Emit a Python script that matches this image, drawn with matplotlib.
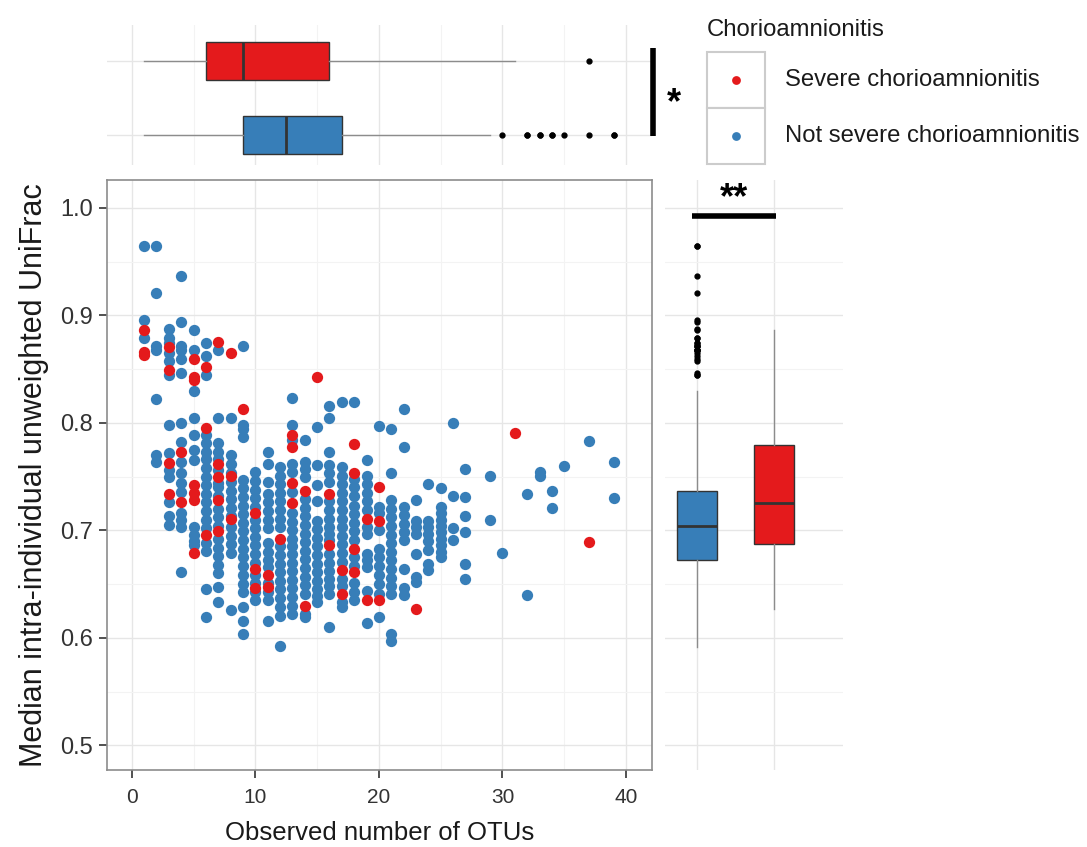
import matplotlib
matplotlib.use('Agg')
import matplotlib.pyplot as plt
from matplotlib.patches import Rectangle

plt.rcParams['font.family'] = ['Liberation Sans', 'DejaVu Sans']

RED = '#E41A1C'
BLUE = '#377EB8'

# observed OTUs -> median intra-individual unweighted UniFrac
not_severe = [
    (1, [0.965, 0.896, 0.879]),
    (2, [0.965, 0.921, 0.872, 0.868, 0.822, 0.770, 0.764]),
    (3, [0.887, 0.879, 0.874, 0.865, 0.858, 0.845, 0.798, 0.772, 0.756, 0.750, 0.726, 0.713, 0.705]),
    (4, [0.937, 0.894, 0.872, 0.868, 0.859, 0.846, 0.800, 0.782, 0.764, 0.753, 0.744, 0.736,
         0.716, 0.710, 0.703, 0.661]),
    (5, [0.886, 0.868, 0.830, 0.805, 0.789, 0.775, 0.765, 0.703, 0.696, 0.690, 0.686]),
    (6, [0.874, 0.862, 0.845, 0.789, 0.781, 0.773, 0.766, 0.758, 0.750, 0.742, 0.734, 0.726,
         0.718, 0.710, 0.702, 0.688, 0.681, 0.645, 0.619]),
    (7, [0.868, 0.805, 0.781, 0.773, 0.766, 0.756, 0.744, 0.740, 0.732, 0.720, 0.712, 0.704,
         0.692, 0.684, 0.676, 0.668, 0.660, 0.647, 0.633]),
    (8, [0.805, 0.770, 0.762, 0.753, 0.745, 0.737, 0.729, 0.721, 0.713, 0.703, 0.695, 0.687,
         0.679, 0.626]),
    (9, [0.872, 0.798, 0.794, 0.787, 0.747, 0.739, 0.731, 0.723, 0.715, 0.707, 0.699, 0.691,
         0.683, 0.675, 0.667, 0.658, 0.650, 0.643, 0.629, 0.616, 0.604]),
    (10, [0.754, 0.746, 0.738, 0.730, 0.722, 0.710, 0.702, 0.694, 0.686, 0.678, 0.670, 0.658,
          0.651, 0.643, 0.635]),
    (11, [0.773, 0.762, 0.745, 0.734, 0.726, 0.718, 0.710, 0.702, 0.688, 0.680, 0.672, 0.666,
          0.651, 0.643, 0.635, 0.616]),
    (12, [0.759, 0.751, 0.743, 0.735, 0.727, 0.719, 0.711, 0.703, 0.685, 0.677, 0.669, 0.661,
          0.653, 0.645, 0.637, 0.629, 0.620, 0.592]),
    (13, [0.823, 0.798, 0.784, 0.762, 0.754, 0.736, 0.716, 0.708, 0.700, 0.692, 0.685, 0.678,
          0.670, 0.662, 0.654, 0.646, 0.638, 0.630, 0.622]),
    (14, [0.784, 0.764, 0.757, 0.750, 0.729, 0.721, 0.713, 0.705, 0.697, 0.689, 0.681, 0.673,
          0.665, 0.657, 0.649, 0.641, 0.622, 0.619]),
    (15, [0.796, 0.761, 0.742, 0.727, 0.709, 0.701, 0.693, 0.685, 0.677, 0.669, 0.661, 0.653,
          0.645, 0.639, 0.633]),
    (16, [0.816, 0.805, 0.773, 0.761, 0.753, 0.745, 0.727, 0.719, 0.711, 0.703, 0.697, 0.691,
          0.678, 0.670, 0.662, 0.655, 0.648, 0.641, 0.610]),
    (17, [0.819, 0.759, 0.751, 0.743, 0.735, 0.727, 0.719, 0.711, 0.703, 0.695, 0.687, 0.679,
          0.671, 0.655, 0.648, 0.633, 0.629]),
    (18, [0.819, 0.748, 0.740, 0.732, 0.723, 0.715, 0.707, 0.699, 0.691, 0.675, 0.667, 0.651,
          0.643, 0.635]),
    (19, [0.765, 0.751, 0.743, 0.735, 0.727, 0.719, 0.703, 0.697, 0.678, 0.672, 0.666, 0.644, 0.614]),
    (20, [0.797, 0.722, 0.716, 0.700, 0.683, 0.675, 0.667, 0.658, 0.650, 0.641, 0.619]),
    (21, [0.794, 0.753, 0.728, 0.720, 0.712, 0.704, 0.696, 0.688, 0.680, 0.672, 0.664, 0.656,
          0.648, 0.641, 0.604, 0.597]),
    (22, [0.813, 0.778, 0.722, 0.714, 0.706, 0.698, 0.691, 0.664, 0.646, 0.640]),
    (23, [0.728, 0.709, 0.703, 0.697, 0.678, 0.657, 0.652]),
    (24, [0.743, 0.709, 0.703, 0.697, 0.690, 0.682, 0.669, 0.663]),
    (25, [0.739, 0.722, 0.716, 0.710, 0.704, 0.698, 0.692, 0.686, 0.680, 0.675]),
    (26, [0.800, 0.732, 0.702, 0.691]),
    (27, [0.757, 0.731, 0.713, 0.698, 0.669, 0.655]),
    (29, [0.751, 0.710]),
    (30, [0.679]),
    (32, [0.734, 0.640]),
    (33, [0.754, 0.751]),
    (34, [0.737, 0.721]),
    (35, [0.760]),
    (37, [0.783]),
    (39, [0.764, 0.730]),
]

severe = [
    (1, [0.886, 0.866, 0.863]),
    (3, [0.871, 0.849, 0.763, 0.734]),
    (4, [0.773, 0.726]),
    (5, [0.859, 0.843, 0.840, 0.742, 0.735, 0.728, 0.679]),
    (6, [0.852, 0.795, 0.696]),
    (7, [0.875, 0.762, 0.750, 0.728, 0.699]),
    (8, [0.865, 0.751, 0.711]),
    (9, [0.813]),
    (10, [0.716, 0.664, 0.646]),
    (11, [0.658, 0.647]),
    (12, [0.692]),
    (13, [0.789, 0.778, 0.744, 0.725]),
    (14, [0.737, 0.630]),
    (15, [0.843]),
    (16, [0.734, 0.686]),
    (17, [0.663, 0.641]),
    (18, [0.780, 0.753, 0.683, 0.661]),
    (19, [0.711, 0.635]),
    (20, [0.740, 0.709, 0.635]),
    (23, [0.627]),
    (31, [0.791]),
    (37, [0.689]),
]

# marginal box statistics: [whisker low, Q1, median, Q3, whisker high]
otu_stats_severe = [1, 6, 9, 16, 31]
otu_stats_not_severe = [1, 9, 12.5, 17, 29]
unifrac_stats_not_severe = [0.591, 0.672, 0.704, 0.737, 0.830]
unifrac_stats_severe = [0.627, 0.6875, 0.725, 0.779, 0.886]

legend_labels = ['Severe chorioamnionitis', 'Not severe chorioamnionitis']


def flatten(groups):
    xs = [x for x, ys in groups for _ in ys]
    ys = [y for _, vals in groups for y in vals]
    return xs, ys


def make_stats(s, values):
    fl = [v for v in values if v < s[0] or v > s[4]]
    return dict(whislo=s[0], q1=s[1], med=s[2], q3=s[3], whishi=s[4], fliers=fl)


bx, by = flatten(not_severe)
rx, ry = flatten(severe)

W, H = 1087, 847
fig = plt.figure(figsize=(W / 100, H / 100), dpi=100)

main_ax = fig.add_axes([107 / W, 1 - 770 / H, 545 / W, 590 / H])
right_ax = fig.add_axes([665 / W, 1 - 770 / H, 178 / W, 590 / H])
top_ax = fig.add_axes([107 / W, 1 - 165 / H, 545 / W, 140 / H])

major_c, minor_c = '#E6E6E6', '#F3F3F3'

# ---- main scatter
main_ax.scatter(bx, by, s=66, color=BLUE, linewidths=0, zorder=3)
main_ax.scatter(rx, ry, s=66, color=RED, linewidths=0, zorder=3)
main_ax.set_xlim(-2.0, 42.1)
main_ax.set_ylim(0.477, 1.026)
main_ax.set_xticks([0, 10, 20, 30, 40])
main_ax.set_xticks([5, 15, 25, 35], minor=True)
main_ax.set_yticks([0.5, 0.6, 0.7, 0.8, 0.9, 1.0])
main_ax.set_yticks([0.55, 0.65, 0.75, 0.85, 0.95], minor=True)
main_ax.set_yticklabels(['0.5', '0.6', '0.7', '0.8', '0.9', '1.0'])
main_ax.grid(True, which='major', color=major_c, lw=1.0, zorder=0)
main_ax.grid(True, which='minor', color=minor_c, lw=0.8, zorder=0)
main_ax.tick_params(which='major', length=6, width=1.2, color='#333333',
                    labelcolor='#333333')
main_ax.tick_params(axis='x', which='major', labelsize=15, pad=7)
main_ax.tick_params(axis='y', which='major', labelsize=17, pad=4)
main_ax.tick_params(which='minor', length=0)
for sp in main_ax.spines.values():
    sp.set_color('#8C8C8C')
    sp.set_linewidth(1.2)
main_ax.set_xlabel('Observed number of OTUs', fontsize=18.5, color='#1A1A1A', labelpad=10)
main_ax.set_ylabel('Median intra-individual unweighted UniFrac', fontsize=22,
                   color='#1A1A1A', labelpad=8)

box_kw = dict(patch_artist=True, showcaps=False, widths=0.52,
              boxprops=dict(edgecolor='#333333', linewidth=1.0),
              medianprops=dict(color='#333333', linewidth=2.0),
              whiskerprops=dict(color='#8C8C8C', linewidth=1.0),
              flierprops=dict(marker='o', markersize=3.5, markerfacecolor='black',
                              markeredgecolor='black'))

# ---- right marginal boxplot (UniFrac by group)
rb = right_ax.bxp([make_stats(unifrac_stats_not_severe, by), make_stats(unifrac_stats_severe, ry)],
                  positions=[1, 2], **box_kw)
for patch, c in zip(rb['boxes'], [BLUE, RED]):
    patch.set_facecolor(c)
right_ax.set_xlim(0.584, 2.896)
right_ax.set_ylim(main_ax.get_ylim())
right_ax.set_yticks(main_ax.get_yticks())
right_ax.set_yticks([0.55, 0.65, 0.75, 0.85, 0.95], minor=True)
right_ax.set_xticks([1, 2])
right_ax.grid(True, which='major', color=major_c, lw=1.0, zorder=0)
right_ax.grid(True, which='minor', color=minor_c, lw=0.8, zorder=0)
right_ax.set_axisbelow(True)
right_ax.tick_params(which='both', length=0, labelleft=False, labelbottom=False)
for sp in right_ax.spines.values():
    sp.set_visible(False)
right_ax.plot([0.935, 2.026], [0.9926, 0.9926], color='black', lw=4, solid_capstyle='butt',
              clip_on=False)
right_ax.text(1.48, 1.009, '**', ha='center', va='center', fontsize=26, fontweight='bold',
              clip_on=False)

# ---- top marginal boxplot (OTUs by group)
tb = top_ax.bxp([make_stats(otu_stats_not_severe, bx), make_stats(otu_stats_severe, rx)],
                positions=[1, 2], orientation='horizontal', **box_kw)
for patch, c in zip(tb['boxes'], [BLUE, RED]):
    patch.set_facecolor(c)
top_ax.set_xlim(main_ax.get_xlim())
top_ax.set_ylim(0.595, 2.486)
top_ax.set_xticks([0, 10, 20, 30, 40])
top_ax.set_xticks([5, 15, 25, 35], minor=True)
top_ax.set_yticks([1, 2])
top_ax.grid(True, which='major', color=major_c, lw=1.0, zorder=0)
top_ax.grid(True, which='minor', axis='x', color=minor_c, lw=0.8, zorder=0)
top_ax.set_axisbelow(True)
top_ax.tick_params(which='both', length=0, labelleft=False, labelbottom=False)
for sp in top_ax.spines.values():
    sp.set_visible(False)
top_ax.plot([42.2, 42.2], [0.986, 2.176], color='black', lw=4, solid_capstyle='butt',
            clip_on=False)
top_ax.text(43.3, 1.42, '*', ha='left', va='center', fontsize=26, fontweight='bold',
            clip_on=False)

# ---- legend
leg = fig.add_axes([0, 0, 1, 1], facecolor='none')
leg.set_xlim(0, W)
leg.set_ylim(H, 0)
leg.axis('off')
leg.text(707, 30, 'Chorioamnionitis', fontsize=17.2, ha='left', va='center', color='#1A1A1A')
for i, (lab, c) in enumerate(zip(legend_labels, [RED, BLUE])):
    y0 = 52 + i * 56
    leg.add_patch(Rectangle((707, y0), 58, 56, facecolor='white', edgecolor='#CCCCCC', lw=1.5))
    leg.scatter([736], [y0 + 28], s=40, color=c, linewidths=0)
    leg.text(785, y0 + 28, lab, fontsize=17.2, ha='left', va='center', color='#1A1A1A')

fig.savefig('out.png', dpi=100)
